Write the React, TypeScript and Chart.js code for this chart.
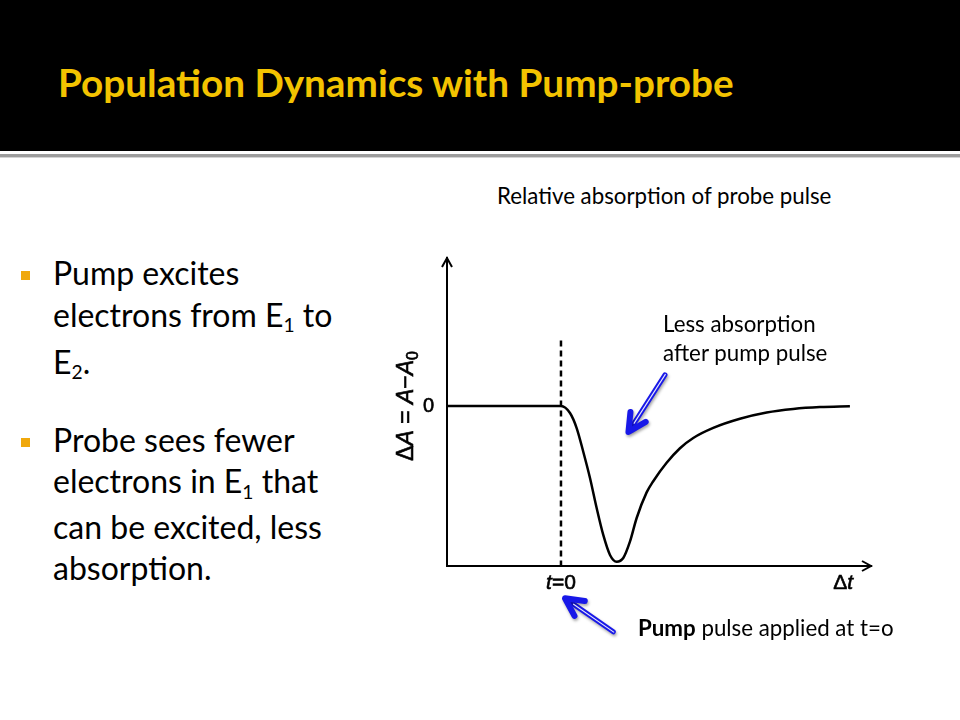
import React, { useEffect, useRef } from "react";
import { Chart, registerables } from "chart.js";

Chart.register(...registerables);

// ---- data (chart units: t=0 at x=0, baseline ΔA=0) ----
const curveX = [-2, 0, 0.158, 0.275, 0.391, 0.509, 0.626, 0.742, 0.86, 0.977, 1.093, 1.21, 1.328, 1.503, 1.619, 1.854, 2.088, 2.321, 2.672, 3.14, 3.609, 4.075, 4.544, 5.07];
const curveY = [0, 0, -0.044, -0.138, -0.286, -0.45, -0.638, -0.806, -0.931, -0.973, -0.95, -0.848, -0.7, -0.54, -0.47, -0.355, -0.264, -0.2, -0.137, -0.08, -0.041, -0.019, -0.007, -0.002];
const dashX = [0, 0];
const dashY = [0.41, -1];
const yTickValues = [0];
const yTickLabels = ["0"];
const xTickValues = [0, 4.95];
// label runs: [text, style] style: n = normal, i = italic, s = subscript
const xTickRuns: [string, string][][] = [
  [["t", "i"], ["=0", "n"]],
  [["Δ", "n"], ["t", "i"]],
];
const yTitleRuns: [string, string][] = [
  ["Δ", "n"], ["A", "i"], [" = ", "n"], ["A", "i"], ["−", "n"], ["A", "i"], ["0", "s"],
];
// annotation arrows in chart units: [tailX, tailY, tipX, tipY]
const arrows = [
  [1.825, 0.194, 1.184, -0.1625],
  [0.918, -1.411, 0.07, -1.202],
];

const X_MIN = -2;
const X_MAX = 5.44;
const Y_MIN = -1;
const Y_MAX = 0.925;

const FONT = "'Liberation Sans', Arial, sans-serif";

function drawRuns(ctx: CanvasRenderingContext2D, runs: [string, string][], cx: number, cy: number, size: number, align = "center") {
  const fontFor = (st: string) =>
    st === "i" ? `italic ${size}px ${FONT}` : st === "s" ? `${Math.round(size * 0.7)}px ${FONT}` : `${size}px ${FONT}`;
  let total = 0;
  const widths = runs.map(([t, st]) => {
    ctx.font = fontFor(st);
    const w = ctx.measureText(t).width;
    total += w;
    return w;
  });
  let x = align === "right" ? cx - total : cx - total / 2;
  ctx.textBaseline = "middle";
  ctx.textAlign = "left";
  ctx.strokeStyle = "#000";
  ctx.lineWidth = 0.6;
  runs.forEach(([t, st], i) => {
    ctx.font = fontFor(st);
    const yy = st === "s" ? cy + size * 0.3 : cy;
    ctx.fillText(t, x, yy);
    ctx.strokeText(t, x, yy);
    x += widths[i];
  });
}

function blueArrow(ctx: CanvasRenderingContext2D, x1: number, y1: number, x2: number, y2: number) {
  const ang = Math.atan2(y2 - y1, x2 - x1);
  const c = Math.cos(ang);
  const s = Math.sin(ang);
  const L = 20;
  const a = 0.47;
  const blue = "#1818e8";
  ctx.save();
  ctx.lineCap = "round";
  ctx.lineJoin = "round";
  ctx.shadowColor = "rgba(0,0,0,0.35)";
  ctx.shadowBlur = 3;
  ctx.shadowOffsetX = 1;
  ctx.shadowOffsetY = 2;
  ctx.strokeStyle = blue;
  ctx.lineWidth = 5;
  ctx.beginPath();
  ctx.moveTo(x1, y1);
  ctx.lineTo(x2 - 5 * c, y2 - 5 * s);
  ctx.stroke();
  ctx.lineWidth = 6;
  ctx.beginPath();
  ctx.moveTo(x2 - L * Math.cos(ang - a), y2 - L * Math.sin(ang - a));
  ctx.lineTo(x2, y2);
  ctx.lineTo(x2 - L * Math.cos(ang + a), y2 - L * Math.sin(ang + a));
  ctx.stroke();
  ctx.restore();
  ctx.save();
  ctx.strokeStyle = "rgba(255,255,255,0.9)";
  ctx.lineWidth = 1.1;
  ctx.lineCap = "butt";
  ctx.beginPath();
  ctx.moveTo(x1 - 1 * c, y1 - 1 * s);
  ctx.lineTo(x2 - 10 * c, y2 - 10 * s);
  ctx.stroke();
  ctx.restore();
}

const overlayPlugin = {
  id: "overlay",
  afterDraw(chart: any) {
    const { ctx, chartArea } = chart;
    const xs = chart.scales.x;
    const ys = chart.scales.y;
    ctx.save();
    // axis arrowheads
    ctx.strokeStyle = "#000";
    ctx.lineWidth = 2;
    ctx.lineCap = "butt";
    ctx.lineJoin = "miter";
    const ax = chartArea.left;
    const at = chartArea.top;
    ctx.beginPath();
    ctx.moveTo(ax - 5, at + 9);
    ctx.lineTo(ax, at);
    ctx.lineTo(ax + 5, at + 9);
    ctx.stroke();
    const bx = chartArea.right;
    const by = chartArea.bottom;
    ctx.beginPath();
    ctx.moveTo(bx - 9, by - 5);
    ctx.lineTo(bx, by);
    ctx.lineTo(bx - 9, by + 5);
    ctx.stroke();
    ctx.fillStyle = "#000";
    // y tick labels
    yTickValues.forEach((v, i) => {
      drawRuns(ctx, [[yTickLabels[i], "n"]], chartArea.left - 13, ys.getPixelForValue(v), 20, "right");
    });
    // x tick labels
    xTickValues.forEach((v, i) => {
      drawRuns(ctx, xTickRuns[i], xs.getPixelForValue(v), chartArea.bottom + 17, 21);
    });
    // y title
    ctx.save();
    ctx.translate(chartArea.left - 40, ys.getPixelForValue(0));
    ctx.rotate(-Math.PI / 2);
    drawRuns(ctx, yTitleRuns, 0, 0, 23);
    ctx.restore();
    // blue arrows
    arrows.forEach(([tx, ty, hx, hy]) => {
      blueArrow(ctx, xs.getPixelForValue(tx), ys.getPixelForValue(ty), xs.getPixelForValue(hx), ys.getPixelForValue(hy));
    });
    ctx.restore();
  },
};

function PumpProbeChart() {
  const ref = useRef<HTMLCanvasElement | null>(null);
  useEffect(() => {
    if (!ref.current) return;
    const chart = new Chart(ref.current, {
      type: "scatter",
      data: {
        datasets: [
          {
            data: curveX.map((x, i) => ({ x, y: curveY[i] })),
            showLine: true,
            borderColor: "#000",
            borderWidth: 2.5,
            pointRadius: 0,
            cubicInterpolationMode: "monotone",
            fill: false,
          },
          {
            data: dashX.map((x, i) => ({ x, y: dashY[i] })),
            showLine: true,
            borderColor: "#000",
            borderWidth: 2.5,
            borderDash: [6, 4],
            pointRadius: 0,
          },
        ],
      },
      options: {
        animation: false,
        responsive: false,
        maintainAspectRatio: false,
        layout: { padding: { left: 77, top: 28, right: 29, bottom: 84 } },
        plugins: { legend: { display: false }, tooltip: { enabled: false }, title: { display: false } },
        scales: {
          x: {
            type: "linear",
            min: X_MIN,
            max: X_MAX,
            grid: { display: false, drawTicks: false },
            border: { display: true, color: "#000", width: 2 },
            ticks: { display: false },
            afterFit: (s: any) => {
              s.height = 0;
            },
          },
          y: {
            type: "linear",
            min: Y_MIN,
            max: Y_MAX,
            grid: { display: false, drawTicks: false },
            border: { display: true, color: "#000", width: 2 },
            ticks: { display: false },
            afterFit: (s: any) => {
              s.width = 0;
            },
          },
        },
      } as any,
      plugins: [overlayPlugin],
    });
    return () => chart.destroy();
  }, []);
  return <canvas ref={ref} width={530} height={420} style={{ position: "absolute", left: 370, top: 230, width: 530, height: 420 }} />;
}

const SANS = "Lato, 'Open Sans', sans-serif";

function Sub({ children }: { children: React.ReactNode }) {
  return <span style={{ fontSize: "0.6em", position: "relative", top: "0.3em" }}>{children}</span>;
}

export default function App() {
  useEffect(() => {
    document.body.style.margin = "0";
  }, []);
  const bullet = (top: number) => (
    <div style={{ position: "absolute", left: 21, top, width: 9, height: 9, background: "#f0a80c" }} />
  );
  return (
    <div style={{ position: "absolute", left: 0, top: 0, width: 960, height: 720, background: "#fff", overflow: "hidden", fontFamily: SANS }}>
      <div style={{ position: "absolute", left: 0, top: 0, width: 960, height: 151, background: "#000" }} />
      <div style={{ position: "absolute", left: 0, top: 154, width: 960, height: 3, background: "#9c9c9c" }} />
      <div style={{ position: "absolute", left: 0, top: 157, width: 960, height: 1, background: "#d4d4d4" }} />
      <div style={{ position: "absolute", left: 58, top: 58.8, fontSize: 38.7, lineHeight: 1.2, fontWeight: 700, color: "#f3c300", whiteSpace: "nowrap" }}>
        Population Dynamics with Pump-probe
      </div>

      {bullet(271)}
      <div style={{ position: "absolute", left: 53, top: 251.6, fontSize: 32, lineHeight: "42px", color: "#000", whiteSpace: "nowrap" }}>
        Pump excites
        <br />
        electrons from E<Sub>1</Sub> to
        <br />
        E<Sub>2</Sub>.
      </div>
      {bullet(438)}
      <div style={{ position: "absolute", left: 53, top: 419, fontSize: 32, lineHeight: "41px", color: "#000", whiteSpace: "nowrap" }}>
        Probe sees fewer
        <br />
        electrons in E<Sub>1</Sub> that
        <br />
        can be excited, less
        <br />
        absorption.
      </div>

      <div style={{ position: "absolute", left: 497, top: 183, fontSize: 22.3, lineHeight: 1.2, color: "#000", whiteSpace: "nowrap" }}>
        Relative absorption of probe pulse
      </div>
      <PumpProbeChart />
      <div style={{ position: "absolute", left: 663, top: 310, fontSize: 22.3, lineHeight: "28.5px", color: "#000", whiteSpace: "nowrap" }}>
        Less absorption
        <br />
        after pump pulse
      </div>
      <div style={{ position: "absolute", left: 638, top: 615, fontSize: 22.3, lineHeight: 1.2, color: "#000", whiteSpace: "nowrap" }}>
        <b>Pump</b> pulse applied at t=o
      </div>
    </div>
  );
}
